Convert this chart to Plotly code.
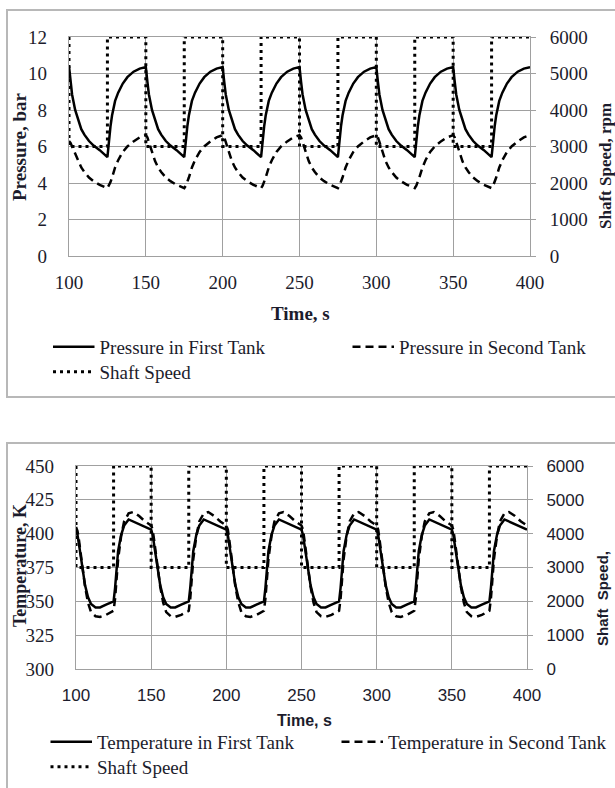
import plotly.graph_objects as go

# ---------------- data ----------------
time = [100, 101, 102, 104, 106, 108, 110, 113, 116, 120, 125, 126, 127, 128, 130, 132, 135, 138, 142, 146,
        150, 151, 152, 154, 156, 158, 160, 163, 166, 170, 175, 176, 177, 178, 180, 182, 185, 188, 192, 196,
        200, 201, 202, 204, 206, 208, 210, 213, 216, 220, 225, 226, 227, 228, 230, 232, 235, 238, 242, 246,
        250, 251, 252, 254, 256, 258, 260, 263, 266, 270, 275, 276, 277, 278, 280, 282, 285, 288, 292, 296,
        300, 301, 302, 304, 306, 308, 310, 313, 316, 320, 325, 326, 327, 328, 330, 332, 335, 338, 342, 346,
        350, 351, 352, 354, 356, 358, 360, 363, 366, 370, 375, 376, 377, 378, 380, 382, 385, 388, 392, 396,
        400]

pressure_first = [10.4, 9.55, 8.85, 8.0, 7.4, 6.95, 6.65, 6.3, 6.05, 5.8, 5.42, 6.4, 7.1, 7.7, 8.5, 8.95, 9.45, 9.8, 10.1, 10.27,
                  10.35, 9.55, 8.85, 8.0, 7.4, 6.95, 6.65, 6.3, 6.05, 5.8, 5.42, 6.4, 7.1, 7.7, 8.5, 8.95, 9.45, 9.8, 10.1, 10.27,
                  10.35, 9.55, 8.85, 8.0, 7.4, 6.95, 6.65, 6.3, 6.05, 5.8, 5.42, 6.4, 7.1, 7.7, 8.5, 8.95, 9.45, 9.8, 10.1, 10.27,
                  10.35, 9.55, 8.85, 8.0, 7.4, 6.95, 6.65, 6.3, 6.05, 5.8, 5.42, 6.4, 7.1, 7.7, 8.5, 8.95, 9.45, 9.8, 10.1, 10.27,
                  10.35, 9.55, 8.85, 8.0, 7.4, 6.95, 6.65, 6.3, 6.05, 5.8, 5.42, 6.4, 7.1, 7.7, 8.5, 8.95, 9.45, 9.8, 10.1, 10.27,
                  10.35, 9.55, 8.85, 8.0, 7.4, 6.95, 6.65, 6.3, 6.05, 5.8, 5.42, 6.4, 7.1, 7.7, 8.5, 8.95, 9.45, 9.8, 10.1, 10.27,
                  10.35]

pressure_second = [6.3, 6.2, 6.0, 5.6, 5.15, 4.85, 4.6, 4.3, 4.1, 3.9, 3.72, 3.85, 4.05, 4.3, 4.85, 5.25, 5.7, 6.0, 6.28, 6.5,
                   6.62, 6.5, 6.25, 5.7, 5.2, 4.85, 4.6, 4.3, 4.1, 3.9, 3.72, 3.85, 4.05, 4.3, 4.85, 5.25, 5.7, 6.0, 6.28, 6.5,
                   6.62, 6.5, 6.25, 5.7, 5.2, 4.85, 4.6, 4.3, 4.1, 3.9, 3.72, 3.85, 4.05, 4.3, 4.85, 5.25, 5.7, 6.0, 6.28, 6.5,
                   6.62, 6.5, 6.25, 5.7, 5.2, 4.85, 4.6, 4.3, 4.1, 3.9, 3.72, 3.85, 4.05, 4.3, 4.85, 5.25, 5.7, 6.0, 6.28, 6.5,
                   6.62, 6.5, 6.25, 5.7, 5.2, 4.85, 4.6, 4.3, 4.1, 3.9, 3.72, 3.85, 4.05, 4.3, 4.85, 5.25, 5.7, 6.0, 6.28, 6.5,
                   6.62, 6.5, 6.25, 5.7, 5.2, 4.85, 4.6, 4.3, 4.1, 3.9, 3.72, 3.85, 4.05, 4.3, 4.85, 5.25, 5.7, 6.0, 6.28, 6.5,
                   6.62]

temp_first = [403, 399, 392, 376, 362, 353, 348, 345.5, 345.5, 347.5, 350, 360, 374, 387, 399, 406, 410.5, 409, 407, 405,
              403, 399, 392, 376, 362, 353, 348, 345.5, 345.5, 347.5, 350, 360, 374, 387, 399, 406, 410.5, 409, 407, 405,
              403, 399, 392, 376, 362, 353, 348, 345.5, 345.5, 347.5, 350, 360, 374, 387, 399, 406, 410.5, 409, 407, 405,
              403, 399, 392, 376, 362, 353, 348, 345.5, 345.5, 347.5, 350, 360, 374, 387, 399, 406, 410.5, 409, 407, 405,
              403, 399, 392, 376, 362, 353, 348, 345.5, 345.5, 347.5, 350, 360, 374, 387, 399, 406, 410.5, 409, 407, 405,
              403, 399, 392, 376, 362, 353, 348, 345.5, 345.5, 347.5, 350, 360, 374, 387, 399, 406, 410.5, 409, 407, 405,
              403]

temp_second = [405, 402, 395, 378, 361, 349, 342, 339, 338.5, 340, 343, 352, 366, 381, 398, 409, 415, 416, 413, 409,
               406, 403, 395, 378, 361, 349, 342, 339, 338.5, 340, 343, 352, 366, 381, 398, 409, 415, 416, 413, 409,
               406, 403, 395, 378, 361, 349, 342, 339, 338.5, 340, 343, 352, 366, 381, 398, 409, 415, 416, 413, 409,
               406, 403, 395, 378, 361, 349, 342, 339, 338.5, 340, 343, 352, 366, 381, 398, 409, 415, 416, 413, 409,
               406, 403, 395, 378, 361, 349, 342, 339, 338.5, 340, 343, 352, 366, 381, 398, 409, 415, 416, 413, 409,
               406, 403, 395, 378, 361, 349, 342, 339, 338.5, 340, 343, 352, 366, 381, 398, 409, 415, 416, 413, 409,
               406]

speed_time = [100, 100, 125, 125, 150, 150, 175, 175, 200, 200, 225, 225, 250, 250,
              275, 275, 300, 300, 325, 325, 350, 350, 375, 375, 400]
shaft_speed = [6000, 3000, 3000, 6000, 6000, 3000, 3000, 6000, 6000, 3000, 3000, 6000, 6000, 3000,
               3000, 6000, 6000, 3000, 3000, 6000, 6000, 3000, 3000, 6000, 6000]

# ---------------- styling ----------------
W, H = 615, 788
SERIF = "Liberation Serif"
SANS = "Liberation Sans"
TXT = "#1c1c2c"
GRID = "#a0a0a0"

def px(x):
    return x / W

def py(y):
    return 1 - y / H

solid = dict(color="black", width=2.5)
dashed = dict(color="black", width=2.5, dash="8px,5px")
dotted = dict(color="black", width=3, dash="3px,4px")

fig = go.Figure()
# top chart
fig.add_trace(go.Scatter(x=time, y=pressure_first, mode="lines", line=solid,
                         name="Pressure in First Tank", xaxis="x", yaxis="y", legend="legend"))
fig.add_trace(go.Scatter(x=time, y=pressure_second, mode="lines", line=dashed,
                         name="Pressure in Second Tank", xaxis="x", yaxis="y", legend="legend"))
fig.add_trace(go.Scatter(x=speed_time, y=shaft_speed, mode="lines", line=dotted,
                         name="Shaft Speed", xaxis="x", yaxis="y2", legend="legend3"))
# bottom chart
fig.add_trace(go.Scatter(x=time, y=temp_first, mode="lines", line=solid,
                         name="Temperature in First Tank", xaxis="x2", yaxis="y3", legend="legend2"))
fig.add_trace(go.Scatter(x=time, y=temp_second, mode="lines", line=dashed,
                         name="Temperature in Second Tank", xaxis="x2", yaxis="y3", legend="legend2"))
fig.add_trace(go.Scatter(x=speed_time, y=shaft_speed, mode="lines", line=dotted,
                         name="Shaft Speed", xaxis="x2", yaxis="y4", legend="legend4"))

xcommon = dict(range=[100, 400], tick0=100, dtick=50, showgrid=True, gridcolor=GRID, gridwidth=1.3,
               showline=True, linecolor=GRID, linewidth=1.3, mirror=True, zeroline=False,
               ticks="")
ycommon = dict(showgrid=True, gridcolor=GRID, gridwidth=1.3, showline=True, linecolor=GRID,
               linewidth=1.3, mirror=True, zeroline=False, ticks="", ticklabelstandoff=17)
yright = dict(showgrid=False, zeroline=False, ticks="outside", ticklen=5, tickcolor=GRID,
              tickwidth=1.3, showline=False, range=[0, 6000], tick0=0, dtick=1000,
              ticklabelstandoff=10)

def leg(x, y, entrywidth=243):
    return dict(orientation="h", x=px(x), xanchor="left", y=py(y), yanchor="top",
                font=dict(family=SERIF, size=19, color=TXT), itemwidth=41.5,
                entrywidth=entrywidth, entrywidthmode="pixels",
                bgcolor="rgba(0,0,0,0)", traceorder="normal")

fig.update_layout(
    width=W, height=H, margin=dict(l=0, r=0, t=0, b=0, autoexpand=False),
    paper_bgcolor="white", plot_bgcolor="white",
    font=dict(family=SERIF, color=TXT),
    xaxis=dict(domain=[px(69), px(530)], anchor="y", ticklabelstandoff=9,
               tickfont=dict(family=SERIF, size=19, color=TXT), **xcommon),
    yaxis=dict(domain=[py(256), py(37)], anchor="x", range=[0, 12], tick0=0, dtick=2,
               tickfont=dict(family=SERIF, size=19, color=TXT), **ycommon),
    yaxis2=dict(overlaying="y", side="right", anchor="x",
                tickfont=dict(family=SERIF, size=19, color=TXT), **yright),
    xaxis2=dict(domain=[px(76), px(527)], anchor="y3", ticklabelstandoff=10,
                tickfont=dict(family=SANS, size=17, color=TXT), **xcommon),
    yaxis3=dict(domain=[py(669), py(466)], anchor="x2", range=[300, 450], tick0=300, dtick=25,
                tickfont=dict(family=SERIF, size=19, color=TXT), **ycommon),
    yaxis4=dict(overlaying="y3", side="right", anchor="x2",
                tickfont=dict(family=SANS, size=17, color=TXT), **yright),
    legend=leg(48, 328, 243),
    legend3=leg(48, 353, 243),
    legend2=leg(45.5, 723, 234.5),
    legend4=leg(45.5, 748, 234.5),
    showlegend=True,
)

ann = [
    dict(text="<b>Pressure, bar</b>", x=px(20), y=py(147), textangle=-90,
         font=dict(family=SERIF, size=19, color=TXT)),
    dict(text="<b>Shaft Speed, rpm</b>", x=px(605), y=py(166), textangle=-90,
         font=dict(family=SERIF, size=17, color=TXT)),
    dict(text="<b>Time, s</b>", x=px(300), y=py(313),
         font=dict(family=SERIF, size=19, color=TXT)),
    dict(text="<b>Temperature, K</b>", x=px(20), y=py(566), textangle=-90,
         font=dict(family=SERIF, size=18, color=TXT)),
    dict(text="<b>Shaft  Speed,</b>", x=px(602), y=py(599), textangle=-90,
         font=dict(family=SANS, size=15, color=TXT)),
    dict(text="<b>Time, s</b>", x=px(304), y=py(720),
         font=dict(family=SANS, size=16, color=TXT)),
]
for a in ann:
    a.update(xref="paper", yref="paper", xanchor="center", yanchor="middle", showarrow=False)
fig.update_layout(annotations=ann)

fig.update_layout(shapes=[
    dict(type="rect", xref="paper", yref="paper", x0=px(7), x1=1.05, y0=py(397), y1=py(10),
         line=dict(color="#b8b8b8", width=2), layer="below"),
    dict(type="rect", xref="paper", yref="paper", x0=px(7), x1=1.05, y0=-0.05, y1=py(443),
         line=dict(color="#b8b8b8", width=2), layer="below"),
])

fig.write_html("out.html")
